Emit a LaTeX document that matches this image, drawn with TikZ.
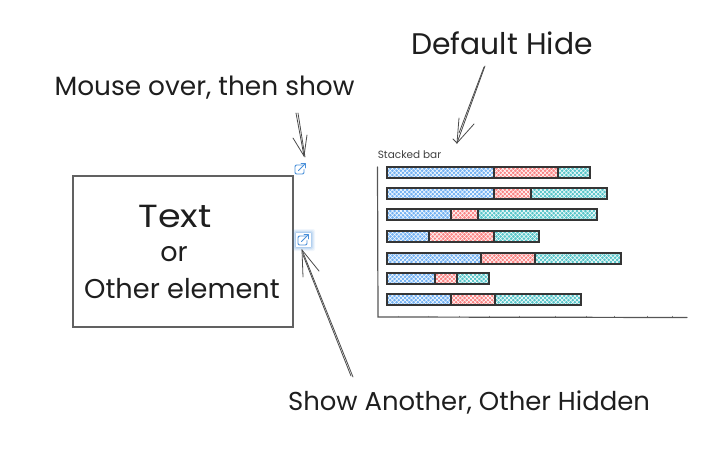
\documentclass[tikz,border=0pt]{standalone}
\usepackage{fontspec}
\setmainfont{Poppins}
\usetikzlibrary{patterns.meta,calc}
\definecolor{ink}{HTML}{1E1E1E}
\definecolor{iconblue}{HTML}{4A90D9}
\definecolor{bblue}{HTML}{74B2F3}
\definecolor{bred}{HTML}{FA8686}
\definecolor{bteal}{HTML}{58C6CA}
\tikzset{
  x=1pt,y=-1pt,
  hand/.style={font=\fontsize{#1}{#1}\selectfont,text=ink,inner sep=0pt,anchor=center},
  sketch/.style={draw=ink!80,line width=0.8pt,line cap=round},
  hatch/.style={fill=#1,
    postaction={pattern={Lines[angle=45,distance=3pt,line width=0.55pt]},pattern color=white},
    postaction={pattern={Lines[angle=-45,distance=3pt,line width=0.55pt]},pattern color=white},
    postaction={draw=ink!90,line width=1.1pt}},
  bluebar/.style={hatch=bblue},
  redbar/.style={hatch=bred},
  tealbar/.style={hatch=bteal},
  iconline/.style={draw=iconblue,line width=0.9pt,line cap=round,line join=round},
}
\newcommand{\stackrow}[4]{%
  \path[bluebar] (387,#1) rectangle (#2,#1+11);
  \path[redbar] (#2,#1) rectangle (#3,#1+11);
  \path[tealbar] (#3,#1) rectangle (#4,#1+11);
}
\newcommand{\extlink}[2]{%
  \draw[iconline] (#1+3.5,#2-4) -- (#1-3,#2-4) .. controls (#1-4.5,#2-4) and (#1-5,#2-3.5) .. (#1-5,#2-2) -- (#1-5,#2+3) .. controls (#1-5,#2+4.5) and (#1-4.5,#2+5) .. (#1-3,#2+5) -- (#1+2,#2+5) .. controls (#1+3.5,#2+5) and (#1+4,#2+4.5) .. (#1+4,#2+3) -- (#1+4,#2+0.5);
  \draw[iconline] (#1-1.5,#2+1.5) -- (#1+5,#2-5);
  \draw[iconline] (#1+1,#2-5.5) -- (#1+5.5,#2-5.5) -- (#1+5.5,#2-1);
}
\begin{document}
\begin{tikzpicture}
\useasboundingbox (0,0) rectangle (710,455);
% labels
\node[hand=29.8] (lhide) at (502,43) {Default Hide};
\node[hand=26.4] (lmouse) at (204.5,88) {Mouse over, then show};
\node[hand=25.9] (lshow) at (469,402) {Show Another, Other Hidden};
\node[hand=32] (ltext) at (175,216) {\scalebox{1.14}[1]{Text}};
\node[hand=27] (lor) at (174,254) {or};
\node[hand=27.2] (lother) at (182,289) {Other element};
\node[text=ink!85,font=\fontsize{10.5}{11}\selectfont,inner sep=0pt] (ltitle) at (409.5,155) {Stacked bar};
% box
\node[draw=ink!70,line width=1.4pt,minimum width=220pt,minimum height=151pt,inner sep=0pt] (box) at (183,251.5) {};
% axes
\coordinate (ax0) at (377.5,167);
\coordinate (axo) at (378,317);
\coordinate (ax1) at (687,317.5);
\draw[draw=ink!75,line width=1.2pt,line cap=round] (ax0) -- (axo) -- (ax1);
\foreach \t in {398,428,459,489,519,555,586,614,647,672}{\draw[ink!60,line width=0.3pt] (\t,315.5) -- (\t,317);}
% bars
\stackrow{167}{494}{558}{590}
\stackrow{188}{494}{531}{607}
\stackrow{209}{451}{478}{597}
\stackrow{231}{429}{494}{539}
\stackrow{253}{481}{535}{621}
\stackrow{273}{435}{457}{489}
\stackrow{294}{451}{495}{581}
% icons
\extlink{300}{169}
\foreach \g/\o in {4/0.08,3/0.1,2/0.14,1/0.2}{\fill[iconblue,opacity=\o,rounded corners=2pt] (296-\g,233-\g) rectangle (311+\g,247+\g);}
\fill[white] (296,233) rectangle (311,247);
\extlink{303}{240}
% arrows
\coordinate (a1s) at (485,66);
\coordinate (a1e) at (457,143);
\draw[sketch] (a1s) -- (a1e);
\draw[sketch] (484,67) .. controls (472,100) .. (459,133);
\draw[sketch] (459,118) -- (a1e) -- (474,124);
\draw[sketch] (453,139) -- (a1e);
\coordinate (a2s) at (296,113);
\coordinate (a2e) at (304,156);
\draw[sketch] (a2s) -- (a2e);
\draw[sketch] (298,113) -- (305,157);
\draw[sketch] (293,138) -- (a2e) -- (307,135);
\coordinate (a3s) at (353,377);
\coordinate (a3e) at (302,250);
\draw[sketch] (a3s) -- (a3e);
\draw[sketch] (351,376) -- (303,255);
\draw[sketch] (303,277) -- (a3e) -- (319,271);
\end{tikzpicture}
\end{document}
